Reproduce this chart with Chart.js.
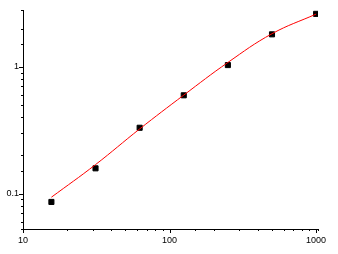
<!DOCTYPE html>
<html>
<head>
<meta charset="utf-8">
<style>
  html, body { margin: 0; padding: 0; background: #fff; }
  #wrap { width: 338px; height: 254px; }
</style>
<script src="https://cdn.jsdelivr.net/npm/chart.js@4/dist/chart.umd.min.js"></script>
</head>
<body>
<div id="wrap"><canvas id="myChart" width="338" height="254"></canvas></div>
<script>
// standard concentrations and measured values
var concentrations = [15.625, 31.25, 62.5, 125, 250, 500, 1000];
var measured = [0.0858, 0.158, 0.33, 0.595, 1.03, 1.80, 2.61];
// fitted curve at the same concentrations
var fitted = [0.0935, 0.169, 0.323, 0.597, 1.08, 1.82, 2.6];
var xTickLabels = [10, 100, 1000];
var yTickLabels = [0.1, 1];

function toPoints(xs, ys) {
    var out = [];
    for (var i = 0; i < xs.length; i++) {
        out.push({ x: xs[i], y: ys[i] });
    }
    return out;
}

// short outward tick marks, longer on the decades
var tickMarks = {
    id: 'tickMarks',
    afterDraw: function(chart) {
        var ctx = chart.ctx;
        ctx.save();
        ctx.strokeStyle = '#000';
        ctx.lineWidth = 1;
        var xs = chart.scales.x, ys = chart.scales.y;
        xs.ticks.forEach(function(t) {
            var px = Math.round(xs.getPixelForValue(t.value)) + 0.5;
            var len = xTickLabels.indexOf(t.value) >= 0 ? 4 : 2;
            ctx.beginPath();
            ctx.moveTo(px, xs.top);
            ctx.lineTo(px, xs.top + len);
            ctx.stroke();
        });
        ys.ticks.forEach(function(t) {
            var py = Math.round(ys.getPixelForValue(t.value)) + 0.5;
            var len = yTickLabels.indexOf(t.value) >= 0 ? 4 : 2;
            ctx.beginPath();
            ctx.moveTo(ys.right, py);
            ctx.lineTo(ys.right - len, py);
            ctx.stroke();
        });
        ctx.restore();
    }
};

var ctx = document.getElementById('myChart');
new Chart(ctx, {
    type: 'scatter',
    data: {
        datasets: [
            {
                label: 'fit',
                type: 'line',
                data: toPoints(concentrations, fitted),
                borderColor: '#ff0000',
                borderWidth: 1,
                pointRadius: 0,
                tension: 0.4,
                fill: false,
                order: 0
            },
            {
                label: 'standards',
                data: toPoints(concentrations, measured),
                pointStyle: 'rect',
                pointRadius: 3.6,
                backgroundColor: '#000',
                borderColor: '#000',
                borderWidth: 1,
                order: 1
            }
        ]
    },
    plugins: [tickMarks],
    options: {
        responsive: false,
        animation: false,
        devicePixelRatio: 1,
        layout: { padding: { top: 10, right: 20, left: 0, bottom: 0 } },
        plugins: {
            legend: { display: false },
            tooltip: { enabled: false }
        },
        scales: {
            x: {
                type: 'logarithmic',
                min: 10,
                max: 1030,
                afterFit: function(s) { s.height = 25; },
                grid: { display: true, drawOnChartArea: false, drawTicks: false },
                border: { display: true, color: '#000', width: 1 },
                ticks: {
                    autoSkip: false,
                    maxRotation: 0,
                    padding: 6,
                    color: '#000',
                    font: { family: 'Liberation Sans, Arial', size: 9 },
                    callback: function(v) {
                        return xTickLabels.indexOf(v) >= 0 ? String(v) : '';
                    }
                }
            },
            y: {
                type: 'logarithmic',
                min: 0.0525,
                max: 2.8,
                afterFit: function(s) { s.width = 23; },
                grid: { display: true, drawOnChartArea: false, drawTicks: false },
                border: { display: true, color: '#000', width: 1 },
                ticks: {
                    autoSkip: false,
                    padding: 4,
                    color: '#000',
                    font: { family: 'Liberation Sans, Arial', size: 9 },
                    callback: function(v) {
                        return yTickLabels.indexOf(v) >= 0 ? String(v) : '';
                    }
                }
            }
        }
    }
});
</script>
</body>
</html>
